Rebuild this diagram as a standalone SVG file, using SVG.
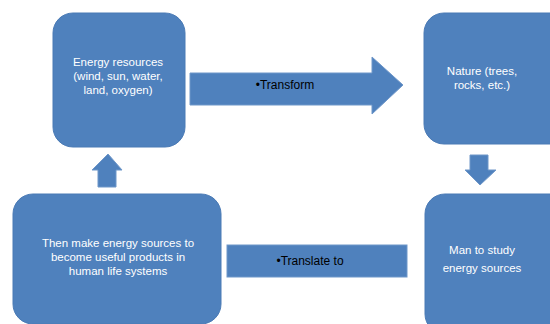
<svg xmlns="http://www.w3.org/2000/svg" width="550" height="324" viewBox="0 0 550 324">
<style>
.box{fill:#4f81bd;stroke:#4a7ab5;stroke-width:1}
.t{font-family:"Liberation Sans",Arial,sans-serif;font-size:11.5px;fill:#ffffff;text-anchor:middle}
.a{fill:#4f81bd;stroke:#6f97c9;stroke-width:1}
.at{font-family:"Liberation Sans",Arial,sans-serif;font-size:12px;fill:#000000;text-anchor:middle}
</style>
<rect width="550" height="324" fill="#ffffff"/>
<g id="connectors">
<polygon class="a" points="190,73 372,73 372,57 403,85 372,114 372,105 190,105"/>
<text class="at" x="285" y="89">•Transform</text>
<rect class="a" x="227" y="245" width="180" height="32"/>
<text class="at" x="310" y="265">•Translate to</text>
<polygon class="a" points="108,154 122,170 116,170 116,187 98,187 98,170 92,170"/>
<polygon class="a" points="470,155 488,155 488,170 496,170 480,185 465,170 470,170"/>
</g>
<g id="energy">
<rect class="box" x="53" y="13" width="132" height="134" rx="20"/>
<text class="t" x="118" y="66">Energy resources</text>
<text class="t" x="118" y="80">(wind, sun, water,</text>
<text class="t" x="118" y="94">land, oxygen)</text>
</g>
<g id="nature">
<rect class="box" x="424" y="13" width="150" height="131" rx="20"/>
<text class="t" x="482" y="75">Nature (trees,</text>
<text class="t" x="482" y="89">rocks, etc.)</text>
</g>
<g id="man">
<rect class="box" x="425" y="194" width="150" height="140" rx="20"/>
<text class="t" x="482" y="254">Man to study</text>
<text class="t" x="482" y="272">energy sources</text>
</g>
<g id="products">
<rect class="box" x="13" y="194" width="208" height="130" rx="20"/>
<text class="t" x="118" y="247">Then make energy sources to</text>
<text class="t" x="118" y="261">become useful products in</text>
<text class="t" x="118" y="275">human life systems</text>
</g>
</svg>
